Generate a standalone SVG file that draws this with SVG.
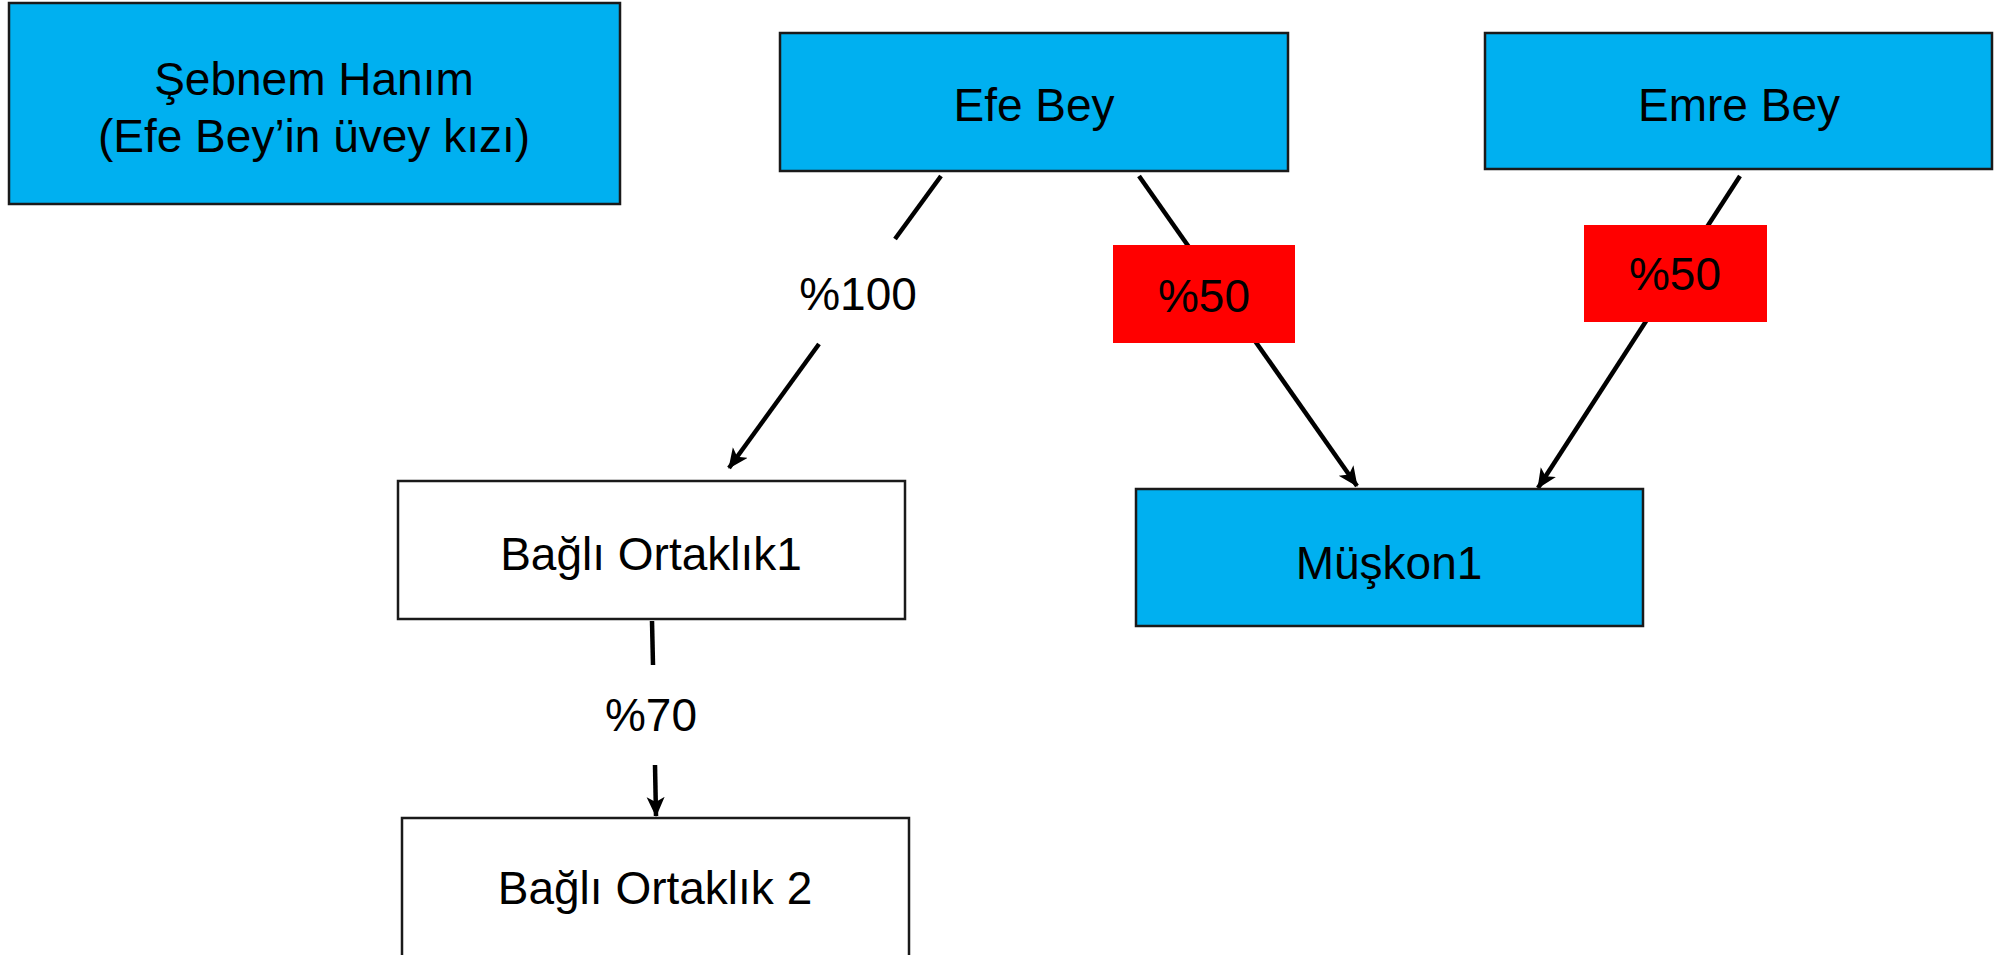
<svg xmlns="http://www.w3.org/2000/svg" width="2013" height="955" viewBox="0 0 2013 955">
<style>
.node{stroke:#1a1a1a;stroke-width:2.5}
.blue{fill:#00B0F0}
.white{fill:#ffffff}
.red{fill:#FF0000}
.t{font-family:"Liberation Sans",Arial,sans-serif;font-size:46px;fill:#000;text-anchor:middle}
.c{stroke:#000;stroke-width:4.5;fill:none}
</style>
<defs>
<marker id="arr" markerUnits="userSpaceOnUse" markerWidth="22" markerHeight="20" refX="19" refY="9" orient="auto">
<path d="M0,0 L20,9 L0,18 L5,9 Z" fill="#000"/>
</marker>
</defs>
<rect width="2013" height="955" fill="#fff"/>
<g id="connectors">
<line class="c" x1="941" y1="176" x2="895" y2="239"/>
<line class="c" x1="819" y1="344" x2="729" y2="468" marker-end="url(#arr)"/>
<line class="c" x1="652" y1="621" x2="653" y2="665"/>
<line class="c" x1="655" y1="765" x2="656" y2="816" marker-end="url(#arr)"/>
<line class="c" x1="1139" y1="176" x2="1357" y2="486" marker-end="url(#arr)"/>
<line class="c" x1="1740" y1="176" x2="1538" y2="488" marker-end="url(#arr)"/>
</g>
<g id="sebnem">
<rect class="node blue" x="9" y="3" width="611" height="201"/>
<text class="t" x="314" y="95">Şebnem Hanım</text>
<text class="t" x="314" y="152">(Efe Bey’in üvey kızı)</text>
</g>
<g id="efe">
<rect class="node blue" x="780" y="33" width="508" height="138"/>
<text class="t" x="1034" y="121">Efe Bey</text>
</g>
<g id="emre">
<rect class="node blue" x="1485" y="33" width="507" height="136"/>
<text class="t" x="1739" y="121">Emre Bey</text>
</g>
<g id="bagli1">
<rect class="node white" x="398" y="481" width="507" height="138"/>
<text class="t" x="651" y="570">Bağlı Ortaklık1</text>
</g>
<g id="bagli2">
<rect class="node white" x="402" y="818" width="507" height="140"/>
<text class="t" x="655" y="904">Bağlı Ortaklık 2</text>
</g>
<g id="muskon">
<rect class="node blue" x="1136" y="489" width="507" height="137"/>
<text class="t" x="1389" y="579">Müşkon1</text>
</g>
<g id="label100">
<text class="t" x="858" y="310">%100</text>
</g>
<g id="label70">
<text class="t" x="651" y="731">%70</text>
</g>
<g id="label50a">
<rect class="red" x="1113" y="245" width="182" height="98"/>
<text class="t" x="1204" y="312">%50</text>
</g>
<g id="label50b">
<rect class="red" x="1584" y="225" width="183" height="97"/>
<text class="t" x="1675" y="290">%50</text>
</g>
</svg>
